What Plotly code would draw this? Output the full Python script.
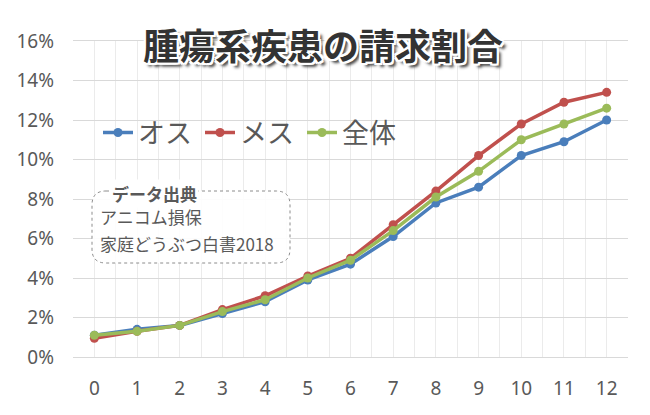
import plotly.graph_objects as go

ages = list(range(13))
male = [1.1, 1.4, 1.6, 2.2, 2.8, 3.9, 4.7, 6.1, 7.8, 8.6, 10.2, 10.9, 12.0]
female = [0.95, 1.3, 1.6, 2.4, 3.1, 4.1, 5.0, 6.7, 8.4, 10.2, 11.8, 12.9, 13.4]
overall = [1.1, 1.3, 1.6, 2.3, 2.9, 4.0, 4.9, 6.4, 8.1, 9.4, 11.0, 11.8, 12.6]
series_names = ["オス", "メス", "全体"]
colors = ["#4A7EBB", "#C0504D", "#9BBB59"]
title_text = "腫瘍系疾患の請求割合"
source_head = "データ出典"
source_lines = ["アニコム損保", "家庭どうぶつ白書2018"]

JP = "Noto Sans CJK JP"
GRAY = "#595959"

fig = go.Figure()
for name, ys, c in zip(series_names, [male, female, overall], colors):
    fig.add_trace(go.Scatter(
        x=ages, y=ys, name=name, mode="lines+markers",
        line=dict(color=c, width=3.5),
        marker=dict(color=c, size=9),
    ))

# page offset (body margin) compensation
O = 8
W, H = 650 - O, 415 - O
# plot area in page pixels: x 73..628, y 41..357
PL, PR, PT, PB = 73, 628, 41, 357
L, R, T, B = PL - O, W - (PR - O), PT - O, H - (PB - O)
pw, ph = PR - PL, PB - PT

def px(x):
    return (x - PL) / pw

def py(y):
    return (PB - y) / ph

# rounded dotted box
x0, x1, y0, y1, r = 92, 290, 191, 263, 14
rx, ry = r / pw, r / ph
X0, X1, Y0, Y1 = px(x0), px(x1), py(y1), py(y0)
path = (f"M {X0+rx},{Y1} L {X1-rx},{Y1} Q {X1},{Y1} {X1},{Y1-ry} "
        f"L {X1},{Y0+ry} Q {X1},{Y0} {X1-rx},{Y0} L {X0+rx},{Y0} "
        f"Q {X0},{Y0} {X0},{Y0+ry} L {X0},{Y1-ry} Q {X0},{Y1} {X0+rx},{Y1} Z")
fig.add_shape(type="path", path=path, xref="paper", yref="paper",
              line=dict(color="#8c8c8c", width=1, dash="dot"),
              fillcolor="rgba(255,255,255,0.9)", layer="above")

fig.add_annotation(x=px(110), y=py(193), xref="paper", yref="paper",
                   xanchor="left", yanchor="middle", showarrow=False,
                   text=f"<b>{source_head}</b>", bgcolor="white",
                   borderpad=1,
                   font=dict(family=JP, size=17, color=GRAY))
fig.add_annotation(x=px(98), y=py(216), xref="paper", yref="paper",
                   xanchor="left", yanchor="middle", showarrow=False,
                   text=source_lines[0],
                   font=dict(family=JP, size=17, color=GRAY))
fig.add_annotation(x=px(98), y=py(243), xref="paper", yref="paper",
                   xanchor="left", yanchor="middle", showarrow=False,
                   text=source_lines[1],
                   font=dict(family=JP, size=17, color=GRAY))

shadow = ("2px 0 0 #fff, -2px 0 0 #fff, 0 2px 0 #fff, 0 -2px 0 #fff, "
          "2px 2px 0 #fff, -2px -2px 0 #fff, 2px -2px 0 #fff, -2px 2px 0 #fff, "
          "4px 4px 3px #444")
fig.add_annotation(x=px(323), y=py(44), xref="paper", yref="paper",
                   xanchor="center", yanchor="middle", showarrow=False,
                   text=f"<b>{title_text}</b>",
                   font=dict(family=JP, size=36, color="#333333", shadow=shadow))

fig.update_layout(
    width=W, height=H,
    margin=dict(l=L, r=R, t=T, b=B, autoexpand=False),
    paper_bgcolor="white", plot_bgcolor="white",
    showlegend=True,
    legend=dict(orientation="h", x=px(98), y=py(133), xanchor="left", yanchor="middle",
                font=dict(family=JP, size=27, color=GRAY),
                bgcolor="rgba(0,0,0,0)", itemwidth=30, tracegroupgap=0,
                entrywidth=57, entrywidthmode="pixels"),
    xaxis=dict(range=[-0.5, 12.5], tickmode="linear", tick0=0, dtick=1,
               showgrid=True, gridcolor="#ebebeb", gridwidth=1,
               minor=dict(tick0=-0.5, dtick=1, showgrid=True, gridcolor="#ebebeb", gridwidth=1),
               showline=True, linecolor="#d9d9d9", mirror=True,
               zeroline=False, ticks="", ticklabelstandoff=14,
               tickfont=dict(family="Noto Sans", size=19, color=GRAY)),
    yaxis=dict(range=[0, 16], tickmode="linear", tick0=0, dtick=2, ticksuffix="%",
               showgrid=True, gridcolor="#d9d9d9", gridwidth=1,
               zeroline=False, showline=False, ticks="", ticklabelstandoff=18,
               tickfont=dict(family="Noto Sans", size=19, color=GRAY)),
)

fig.write_html("out.html")
